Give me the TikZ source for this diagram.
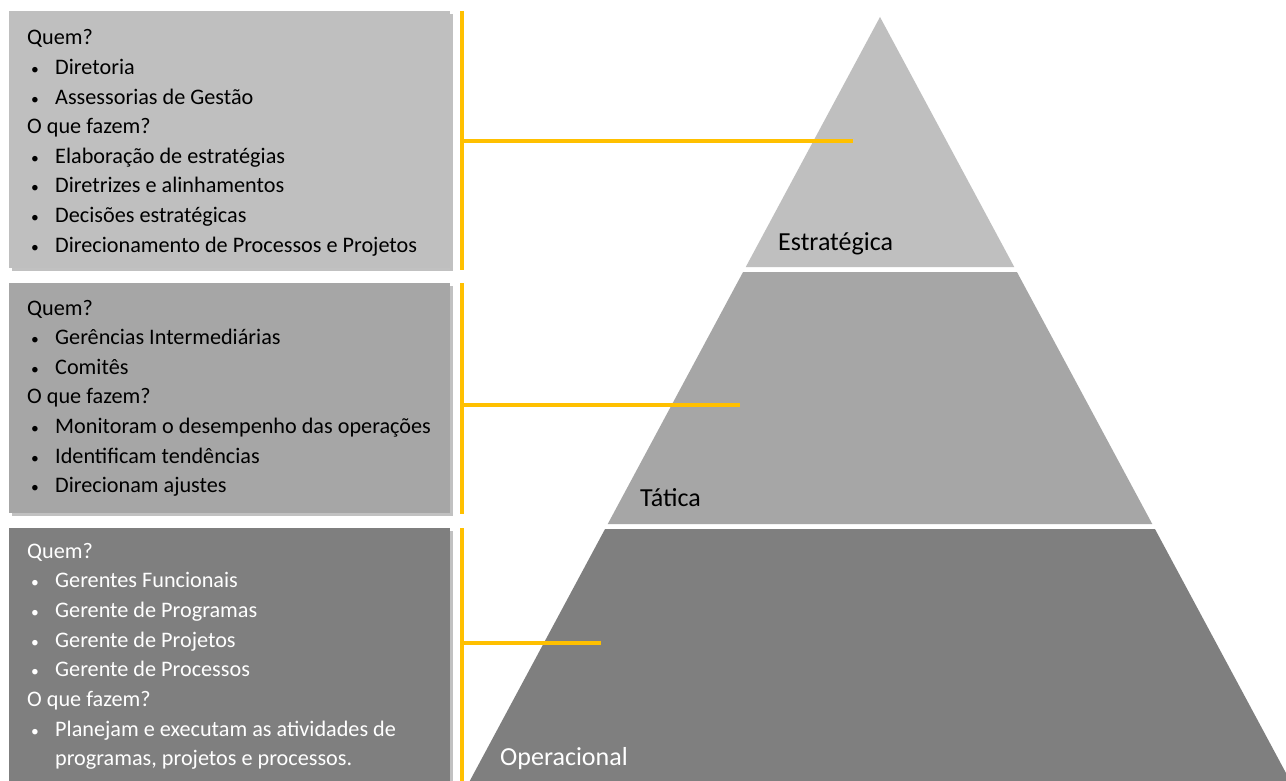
\documentclass[tikz,border=0pt]{standalone}
\usepackage{fontspec}
\setmainfont{Carlito}
\usetikzlibrary{shadows}
\definecolor{lvA}{HTML}{BFBFBF}
\definecolor{lvB}{HTML}{A6A6A6}
\definecolor{lvC}{HTML}{7F7F7F}
\definecolor{gold}{HTML}{FFC000}
\newcommand\bitem[1]{\hspace*{4pt}\makebox[24pt][l]{\scalebox{0.7}{•}}#1}
\begin{document}
\begin{tikzpicture}[x=1pt,y=-1pt,
  infobox/.style={rectangle,draw=none,anchor=north west,minimum width=441pt,inner sep=0pt,
    drop shadow={shadow xshift=3pt,shadow yshift=-3pt,opacity=.4,fill=black!60}},
  txt/.style={anchor=base west,inner sep=0pt,font=\fontsize{22.2}{26}\selectfont},
  lvl/.style={anchor=base west,inner sep=0pt,font=\fontsize{26}{30}\selectfont},
  goldline/.style={draw=gold,line width=3.2pt}]
\useasboundingbox (0,0) rectangle (1286,781);
\fill[white] (0,0) rectangle (1286,781);
% boxes
\node[infobox,fill=lvA,minimum height=257pt] (b1) at (9,11) {};
\node[infobox,fill=lvB,minimum height=230pt] (b2) at (9,283) {};
\node[infobox,fill=lvC,minimum height=270pt] (b3) at (9,528) {};
% texts box 1
\foreach \t [count=\i] in {Quem?,\bitem{Diretoria},\bitem{Assessorias de Gestão},O que fazem?,
  \bitem{Elaboração de estratégias},\bitem{Diretrizes e alinhamentos},\bitem{Decisões estratégicas},
  \bitem{Direcionamento de Processos e Projetos}}
  \node[txt,text=black] (ta\i) at (27,{45+29.6*(\i-1)}) {\t};
\foreach \t [count=\i] in {Quem?,\bitem{Gerências Intermediárias},\bitem{Comitês},O que fazem?,
  \bitem{Monitoram o desempenho das operações},\bitem{Identificam tendências},\bitem{Direcionam ajustes}}
  \node[txt,text=black] (tb\i) at (27,{315+29.6*(\i-1)}) {\t};
\foreach \t [count=\i] in {Quem?,\bitem{Gerentes Funcionais},\bitem{Gerente de Programas},\bitem{Gerente de Projetos},
  \bitem{Gerente de Processos},O que fazem?,\bitem{Planejam e executam as atividades de},{\hspace*{28pt}programas, projetos e processos.}}
  \node[txt,text=white] (tc\i) at (27,{558+29.7*(\i-1)}) {\t};
% pyramid
\pgfmathsetmacro\sl{0.537}
\fill[lvA] (880,17) coordinate (apex) -- ({880-\sl*250},267) -- ({880+\sl*250},267) -- cycle;
\fill[lvB] ({880-\sl*255},272) -- ({880+\sl*255},272) -- ({880+\sl*507},524) -- ({880-\sl*507},524) -- cycle;
\fill[lvC] ({880-\sl*512},529) -- ({880+\sl*512},529) -- ({880+\sl*764},781) -- ({880-\sl*764},781) -- cycle;
\node[lvl,text=black] (pa) at (778,251) {Estratégica};
\node[lvl,text=black] (pb) at (640,506) {Tática};
\node[lvl,text=white] (pc) at (500,765) {Operacional};
% gold connectors
\coordinate (v1t) at (462,11); \coordinate (v1b) at (462,270); \coordinate (h1a) at (462,141); \coordinate (h1b) at (853,141);
\coordinate (v2t) at (462,283); \coordinate (v2b) at (462,514); \coordinate (h2a) at (462,405); \coordinate (h2b) at (740,405);
\coordinate (v3t) at (462,528); \coordinate (v3b) at (462,781); \coordinate (h3a) at (462,643); \coordinate (h3b) at (601,643);
\draw[goldline] (v1t) -- (v1b); \draw[goldline] (h1a) -- (h1b);
\draw[goldline] (v2t) -- (v2b); \draw[goldline] (h2a) -- (h2b);
\draw[goldline] (v3t) -- (v3b); \draw[goldline] (h3a) -- (h3b);
\end{tikzpicture}
\end{document}
